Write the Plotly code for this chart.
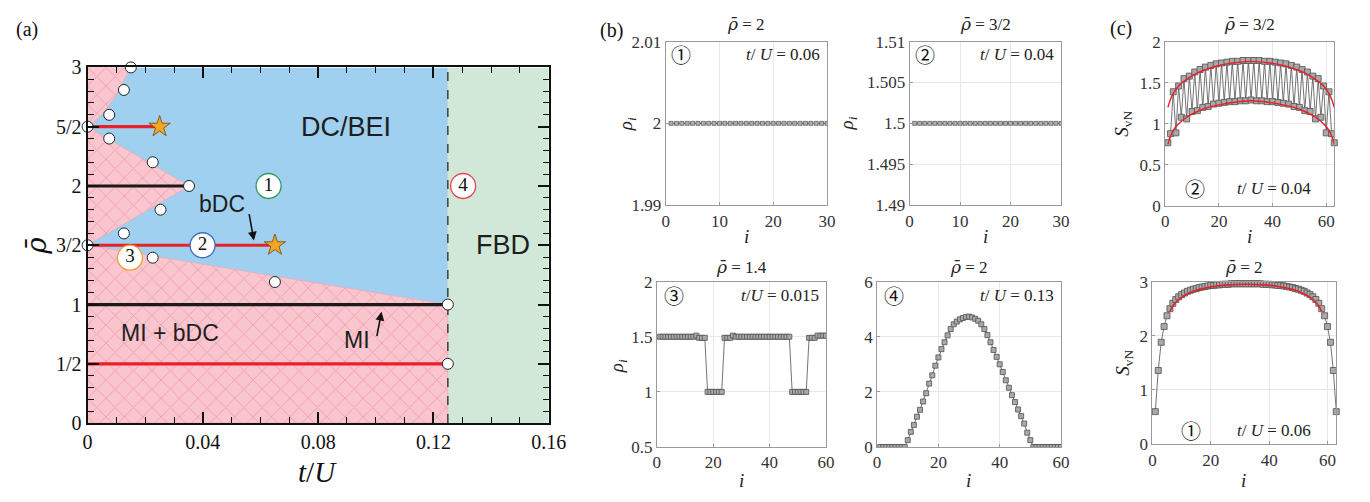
import plotly.graph_objects as go

W, H = 1370, 502
def fx(p): return p / W
def fy(p): return 1 - p / H

SERIF = "Liberation Serif"
SANS = "Liberation Sans"
CIRC = "Noto Sans CJK JP"
RHOBAR = "<span style='font-family:DejaVu Serif'><i>ρ̄</i></span>"

# ---------------- panel (a) data ----------------
t_max = 0.16
rho_max = 3.0
t_fbd = 0.125
pink_low_t = [0, 0.125, 0.125, 0.0226, 0]
pink_low_r = [0, 0, 1.0, 1.41, 1.5]
pink_mid_t = [0, 0.0352, 0]
pink_mid_r = [1.5, 2.0, 2.5]
pink_top_t = [0, 0.005, 0.0095, 0.0135, 0.0143, 0]
pink_top_r = [2.5, 2.6, 2.75, 2.93, 3.0, 3.0]

red_rho = [2.5, 1.5, 0.5]
red_tend = [0.025, 0.065, 0.125]
black_rho = [2.0, 1.0]
black_tend = [0.0352, 0.125]

circ_t = [0.015, 0.0126, 0.0075, 0, 0.0075, 0.0226, 0.0352, 0.0253, 0.0126, 0, 0.0226, 0.065, 0.125, 0.125]
circ_r = [3.0, 2.81, 2.6, 2.5, 2.4, 2.2, 2.0, 1.8, 1.6, 1.5, 1.395, 1.19, 1.0, 0.5]
star_t = [0.025, 0.065]
star_r = [2.5, 1.5]

lab_t = [0.0628, 0.0399, 0.0147, 0.1303]
lab_r = [2.0, 1.5, 1.395, 2.0]
lab_txt = ["1", "2", "3", "4"]
lab_col = ["#2e9a5a", "#3d6cc0", "#f0a030", "#e8424a"]

a_xticks = [0, 0.04, 0.08, 0.12, 0.16]
a_xlabels = ["0", "0.04", "0.08", "0.12", "0.16"]
a_yticks = [0, 0.5, 1, 1.5, 2, 2.5, 3]
a_ylabels = ["0", "1/2", "1", "3/2", "2", "5/2", "3"]

# ---------------- panel (b) data ----------------
i30 = list(range(1, 31))
rho_b1 = [2.0] * 30
rho_b2 = [1.5] * 30
i60 = list(range(1, 61))
rho_b3 = ([1.5] * 13 + [1.51, 1.49, 1.49, 1.49] + [1.0] * 6 + [1.49, 1.49, 1.49, 1.51]
          + [1.5] * 20 + [1.0] * 6 + [1.49, 1.49, 1.49] + [1.51] * 4)
rho_b4 = ([0.0] * 9 + [0.25, 0.55, 0.8, 1.1, 1.35, 1.65, 1.95, 2.3, 2.6, 2.95, 3.25, 3.55, 3.8, 4.05,
           4.28, 4.45, 4.55, 4.63, 4.68, 4.72, 4.73, 4.7, 4.65, 4.58, 4.45, 4.28, 4.06, 3.8, 3.52,
           3.27, 3.0, 2.72, 2.42, 2.15, 1.88, 1.63, 1.36, 1.12, 0.85, 0.52, 0.25] + [0.0] * 10)

# ---------------- panel (c) data ----------------
i63 = list(range(1, 64))
s_c1 = [0.77, 0.88, 1.39, 0.89, 1.46, 1.08, 1.55, 1.06, 1.58, 1.15, 1.63, 1.16, 1.66, 1.20, 1.69,
        1.21, 1.71, 1.24, 1.73, 1.25, 1.74, 1.26, 1.75, 1.27, 1.76, 1.27, 1.76, 1.28, 1.77, 1.28,
        1.77, 1.29, 1.77, 1.28, 1.77, 1.28, 1.76, 1.27, 1.76, 1.27, 1.75, 1.26, 1.74, 1.25, 1.73,
        1.24, 1.71, 1.21, 1.69, 1.20, 1.66, 1.16, 1.63, 1.15, 1.58, 1.06, 1.55, 1.08, 1.46, 0.89,
        1.39, 0.88, 0.77]
fit_up_i = [1, 2, 3, 5, 8, 12, 16, 20, 25, 32, 39, 44, 48, 52, 56, 59, 61, 62, 63]
fit_up_s = [1.2, 1.3, 1.37, 1.46, 1.54, 1.62, 1.67, 1.71, 1.74, 1.76, 1.74, 1.71, 1.67, 1.62, 1.54, 1.46, 1.37, 1.3, 1.2]
fit_lo_i = [1, 2, 3, 5, 8, 12, 16, 20, 25, 32, 39, 44, 48, 52, 56, 59, 61, 62, 63]
fit_lo_s = [0.75, 0.85, 0.92, 1.0, 1.08, 1.15, 1.2, 1.23, 1.26, 1.28, 1.26, 1.23, 1.2, 1.15, 1.08, 1.0, 0.92, 0.85, 0.75]
s_half = [0.6, 1.36, 1.88, 2.17, 2.37, 2.5, 2.6, 2.67, 2.72, 2.76, 2.79, 2.82, 2.84, 2.86, 2.87, 2.89,
          2.9, 2.91, 2.92, 2.93, 2.93, 2.94, 2.94, 2.95, 2.95, 2.95, 2.96, 2.96, 2.96, 2.96, 2.96, 2.96]
s_c2 = s_half + s_half[:31][::-1]
fit2_i = [6, 7, 8, 10, 12, 15, 18, 22, 26, 32, 38, 42, 46, 49, 52, 54, 56, 57, 58]
fit2_s = [2.45, 2.55, 2.62, 2.71, 2.77, 2.84, 2.88, 2.92, 2.94, 2.95, 2.94, 2.92, 2.88, 2.84, 2.77, 2.71, 2.62, 2.55, 2.45]

fig = go.Figure()

# ---------- panel (a) traces ----------
fig.add_trace(go.Scatter(x=[0, t_fbd, t_fbd, 0], y=[0, 0, rho_max, rho_max], fill="toself", mode="none",
                         fillcolor="#a0d0ef", xaxis="x", yaxis="y", hoverinfo="skip"))
fig.add_trace(go.Scatter(x=[t_fbd, t_max, t_max, t_fbd], y=[0, 0, rho_max, rho_max], fill="toself", mode="none",
                         fillcolor="#d1e8d8", xaxis="x", yaxis="y", hoverinfo="skip"))
for tt, rr in [(pink_low_t, pink_low_r), (pink_mid_t, pink_mid_r), (pink_top_t, pink_top_r)]:
    fig.add_trace(go.Scatter(x=tt, y=rr, fill="toself", mode="lines",
                             line=dict(width=0.6, color="#f3a3b0"),
                             fillcolor="#f9c5ce",
                             fillpattern=dict(shape="x", fgcolor="#e97c8c", bgcolor="#f9c5ce",
                                              size=13, solidity=0.14),
                             xaxis="x", yaxis="y", hoverinfo="skip"))
fig.add_trace(go.Scatter(x=[t_fbd, t_fbd], y=[0, rho_max], mode="lines",
                         line=dict(color="#333", width=1.4, dash="dash"), xaxis="x", yaxis="y"))
for r, te in zip(red_rho, red_tend):
    fig.add_trace(go.Scatter(x=[0, te], y=[r, r], mode="lines", line=dict(color="#e82028", width=3.2),
                             xaxis="x", yaxis="y"))
for r, te in zip(black_rho, black_tend):
    fig.add_trace(go.Scatter(x=[0, te], y=[r, r], mode="lines", line=dict(color="#1a1a1a", width=3.2),
                             xaxis="x", yaxis="y"))
fig.add_trace(go.Scatter(x=circ_t, y=circ_r, mode="markers", cliponaxis=False,
                         marker=dict(symbol="circle", size=11, color="white",
                                     line=dict(color="#222", width=1)),
                         xaxis="x", yaxis="y"))
fig.add_trace(go.Scatter(x=star_t, y=star_r, mode="markers", cliponaxis=False,
                         marker=dict(symbol="star", size=16, color="#f5a623",
                                     line=dict(color="#6b4a10", width=0.8)),
                         xaxis="x", yaxis="y"))
fig.add_trace(go.Scatter(x=lab_t, y=lab_r, mode="markers+text", cliponaxis=False,
                         text=lab_txt, textposition="middle center",
                         textfont=dict(family=SERIF, size=19, color="#111"),
                         marker=dict(symbol="circle", size=25, color="white",
                                     line=dict(color=lab_col, width=1.3)),
                         xaxis="x", yaxis="y"))
# empty trace so the minor-tick overlay axes get drawn
fig.add_trace(go.Scatter(x=[], y=[], xaxis="x8", yaxis="y8", hoverinfo="skip"))

# ---------- panel (b)/(c) traces ----------
mk4 = dict(symbol="square", size=4, color="#b0b0b0", line=dict(color="#555", width=0.7))
mk = dict(symbol="square", size=5, color="#a9a9a9", line=dict(color="#505050", width=0.8))
ln = dict(color="#505050", width=0.8)
fig.add_trace(go.Scatter(x=i30, y=rho_b1, mode="lines+markers", marker=mk4, line=ln, xaxis="x2", yaxis="y2"))
fig.add_trace(go.Scatter(x=i30, y=rho_b2, mode="lines+markers", marker=mk4, line=ln, xaxis="x3", yaxis="y3"))
fig.add_trace(go.Scatter(x=i60, y=rho_b3, mode="lines+markers", marker=mk, line=ln, xaxis="x4", yaxis="y4"))
fig.add_trace(go.Scatter(x=i60, y=rho_b4, mode="lines+markers", marker=mk, line=ln, xaxis="x5", yaxis="y5"))
mk6 = dict(symbol="square", size=6, color="#a9a9a9", line=dict(color="#505050", width=0.8))
fig.add_trace(go.Scatter(x=i63, y=s_c1, mode="lines+markers", marker=mk6, line=ln, xaxis="x6", yaxis="y6", cliponaxis=False))
fig.add_trace(go.Scatter(x=fit_up_i, y=fit_up_s, mode="lines", line=dict(color="#e8202a", width=1.4, shape="spline"), xaxis="x6", yaxis="y6"))
fig.add_trace(go.Scatter(x=fit_lo_i, y=fit_lo_s, mode="lines", line=dict(color="#e8202a", width=1.4, shape="spline"), xaxis="x6", yaxis="y6"))
fig.add_trace(go.Scatter(x=i63, y=s_c2, mode="lines+markers", marker=mk6, line=ln, xaxis="x7", yaxis="y7", cliponaxis=False))
fig.add_trace(go.Scatter(x=fit2_i, y=fit2_s, mode="lines", line=dict(color="#e8202a", width=1.6, shape="spline"), xaxis="x7", yaxis="y7"))

# ---------- axes ----------
afont = dict(family=SERIF, size=20, color="#111")
ax_dom_x = [fx(84), fx(553)]
ax_dom_y = [fy(431), fy(59)]
fig.update_layout(
    template="simple_white",
    xaxis=dict(domain=ax_dom_x, range=[0, t_max], anchor="y",
               tickmode="array", tickvals=a_xticks, ticktext=a_xlabels,
               ticks="inside", ticklen=11, tickwidth=1.5, tickcolor="#111",
               showline=True, linewidth=2, linecolor="#111", mirror="ticks",
               showgrid=False, zeroline=False, tickfont=afont, layer="above traces"),
    yaxis=dict(domain=ax_dom_y, range=[0, rho_max], anchor="x",
               tickmode="array", tickvals=a_yticks, ticktext=a_ylabels,
               ticks="inside", ticklen=11, tickwidth=1.5, tickcolor="#111",
               showline=True, linewidth=2, linecolor="#111", mirror="ticks",
               showgrid=False, zeroline=False, tickfont=afont, layer="above traces"),
    xaxis8=dict(domain=ax_dom_x, range=[0, t_max], anchor="y8", overlaying="x",
                tickmode="linear", tick0=0, dtick=0.01, ticks="inside", ticklen=6,
                tickwidth=1.3, tickcolor="#111", showticklabels=False, mirror="ticks",
                showline=True, linewidth=2, linecolor="#111",
                showgrid=False, zeroline=False, layer="above traces"),
    yaxis8=dict(domain=ax_dom_y, range=[0, rho_max], anchor="x8", overlaying="y",
                tickmode="linear", tick0=0, dtick=0.1, ticks="inside", ticklen=6,
                tickwidth=1.3, tickcolor="#111", showticklabels=False, mirror="ticks",
                showline=True, linewidth=2, linecolor="#111",
                showgrid=False, zeroline=False, layer="above traces"),
)

def small_axes(n, xd, yd, xr, yr, xt, yt, ytt=None):
    bf = dict(family=SERIF, size=17, color="#333")
    common = dict(showline=True, linecolor="#9a9a9a", linewidth=1, mirror=True,
                  ticks="inside", ticklen=3, tickcolor="#9a9a9a",
                  showgrid=True, gridcolor="#e8e8e8", gridwidth=1, zeroline=False, tickfont=bf)
    xa = dict(domain=[fx(xd[0]), fx(xd[1])], range=xr, anchor="y%d" % n,
              tickmode="array", tickvals=xt, ticktext=[str(v) for v in xt], **common)
    ya = dict(domain=[fy(yd[1]), fy(yd[0])], range=yr, anchor="x%d" % n,
              tickmode="array", tickvals=yt, ticktext=ytt if ytt else [str(v) for v in yt], **common)
    fig.update_layout(**{"xaxis%d" % n: xa, "yaxis%d" % n: ya})

small_axes(2, (672, 836), (32, 203), [0, 30], [1.99, 2.01], [0, 10, 20, 30], [1.99, 2.0, 2.01], ["1.99", "2", "2.01"])
small_axes(3, (920, 1074), (32, 203), [0, 30], [1.49, 1.51], [0, 10, 20, 30],
           [1.49, 1.495, 1.5, 1.505, 1.51], ["1.49", "1.495", "1.5", "1.505", "1.51"])
small_axes(4, (663, 835), (283, 456), [0, 60], [0.5, 2], [0, 20, 40, 60], [0.5, 1, 1.5, 2], ["0.5", "1", "1.5", "2"])
small_axes(5, (887, 1074), (283, 456), [0, 60], [0, 6], [0, 20, 40, 60], [0, 2, 4, 6])
small_axes(6, (1180, 1352), (32, 204), [0, 63], [0, 2], [0, 20, 40, 60], [0, 0.5, 1, 1.5, 2], ["0", "0.5", "1", "1.5", "2"])
small_axes(7, (1167, 1354), (283, 453), [0, 63], [0, 3], [0, 20, 40, 60], [0, 1, 2, 3])

# ---------- annotations ----------
ann = []
def A(x, y, text, size=17, family=SERIF, color="#222", xanchor="center", yanchor="middle", angle=0, ref="paper"):
    d = dict(x=x, y=y, text=text, showarrow=False, xanchor=xanchor, yanchor=yanchor,
             font=dict(family=family, size=size, color=color), textangle=angle)
    if ref == "paper":
        d.update(xref="paper", yref="paper")
    else:
        d.update(xref=ref[0], yref=ref[1])
    ann.append(d)

A(fx(22), fy(19), "(a)", 20, color="#111")
A(fx(617), fy(20), "(b)", 20, color="#111")
A(fx(1135), fy(18), "(c)", 20, color="#111")

A(0.0897, 2.5, "DC/BEI", 27, SANS, "#1e1e1e", ref=("x", "y"))
A(0.0468, 1.85, "bDC", 23, SANS, "#1e1e1e", ref=("x", "y"))
A(0.144, 1.5, "FBD", 27, SANS, "#1e1e1e", ref=("x", "y"))
A(0.0287, 0.76, "MI + bDC", 23, SANS, "#1e1e1e", ref=("x", "y"))
A(0.0935, 0.7, "MI", 23, SANS, "#1e1e1e", ref=("x", "y"))
A(fx(32), fy(245), RHOBAR, 28, color="#111", angle=-90)
A(fx(318), fy(482), "<i>t</i>/<i>U</i>", 29, color="#111")
ann.append(dict(x=0.0577, y=1.54, xref="x", yref="y", ax=-5, ay=-28, text="", showarrow=True,
                arrowhead=2, arrowsize=1.1, arrowwidth=1.6, arrowcolor="#111"))
ann.append(dict(x=0.102, y=0.94, xref="x", yref="y", ax=-5, ay=26, text="", showarrow=True,
                arrowhead=2, arrowsize=1.1, arrowwidth=1.6, arrowcolor="#111"))

A(fx(754), fy(14), RHOBAR + " = 2", 17)
A(fx(997), fy(14), RHOBAR + " = 3/2", 17)
A(fx(749), fy(268), RHOBAR + " = 1.4", 17)
A(fx(980), fy(268), RHOBAR + " = 2", 17)
A(fx(688), fy(45), "①", 20, CIRC, "#111")
A(fx(936), fy(45), "②", 20, CIRC, "#111")
A(fx(680), fy(298), "③", 20, CIRC, "#111")
A(fx(904), fy(298), "④", 20, CIRC, "#111")
A(fx(831), fy(45), "<i>t</i>/ <i>U</i> = 0.06", 17, xanchor="right")
A(fx(1069), fy(45), "<i>t</i>/ <i>U</i> = 0.04", 17, xanchor="right")
A(fx(830), fy(298), "<i>t</i>/<i>U</i> = 0.015", 17, xanchor="right")
A(fx(1069), fy(298), "<i>t</i>/ <i>U</i> = 0.13", 17, xanchor="right")
A(fx(632), fy(118), "<i>ρ</i><sub><i>i</i></sub>", 19, angle=-90)
A(fx(857), fy(118), "<i>ρ</i><sub><i>i</i></sub>", 19, angle=-90)
A(fx(623), fy(372), "<i>ρ</i><sub><i>i</i></sub>", 19, angle=-90)
A(fx(754), fy(236), "<i>i</i>", 19)
A(fx(997), fy(236), "<i>i</i>", 19)
A(fx(749), fy(491), "<i>i</i>", 19)
A(fx(980), fy(491), "<i>i</i>", 19)

A(fx(1266), fy(14), RHOBAR + " = 3/2", 17)
A(fx(1260), fy(268), RHOBAR + " = 2", 17)
A(fx(1210), fy(186), "②", 20, CIRC, "#111")
A(fx(1330), fy(186), "<i>t</i>/ <i>U</i> = 0.04", 17, xanchor="right")
A(fx(1206), fy(439), "①", 20, CIRC, "#111")
A(fx(1330), fy(439), "<i>t</i>/ <i>U</i> = 0.06", 17, xanchor="right")
A(fx(1137), fy(118), "<i>S</i><sub>vN</sub>", 19, angle=-90)
A(fx(1138), fy(368), "<i>S</i><sub>vN</sub>", 19, angle=-90)
A(fx(1266), fy(236), "<i>i</i>", 19)
A(fx(1260), fy(491), "<i>i</i>", 19)

fig.update_layout(annotations=ann, width=W, height=H, margin=dict(l=0, r=0, t=0, b=0),
                  paper_bgcolor="white", plot_bgcolor="white", showlegend=False)

fig.write_html("out.html")
